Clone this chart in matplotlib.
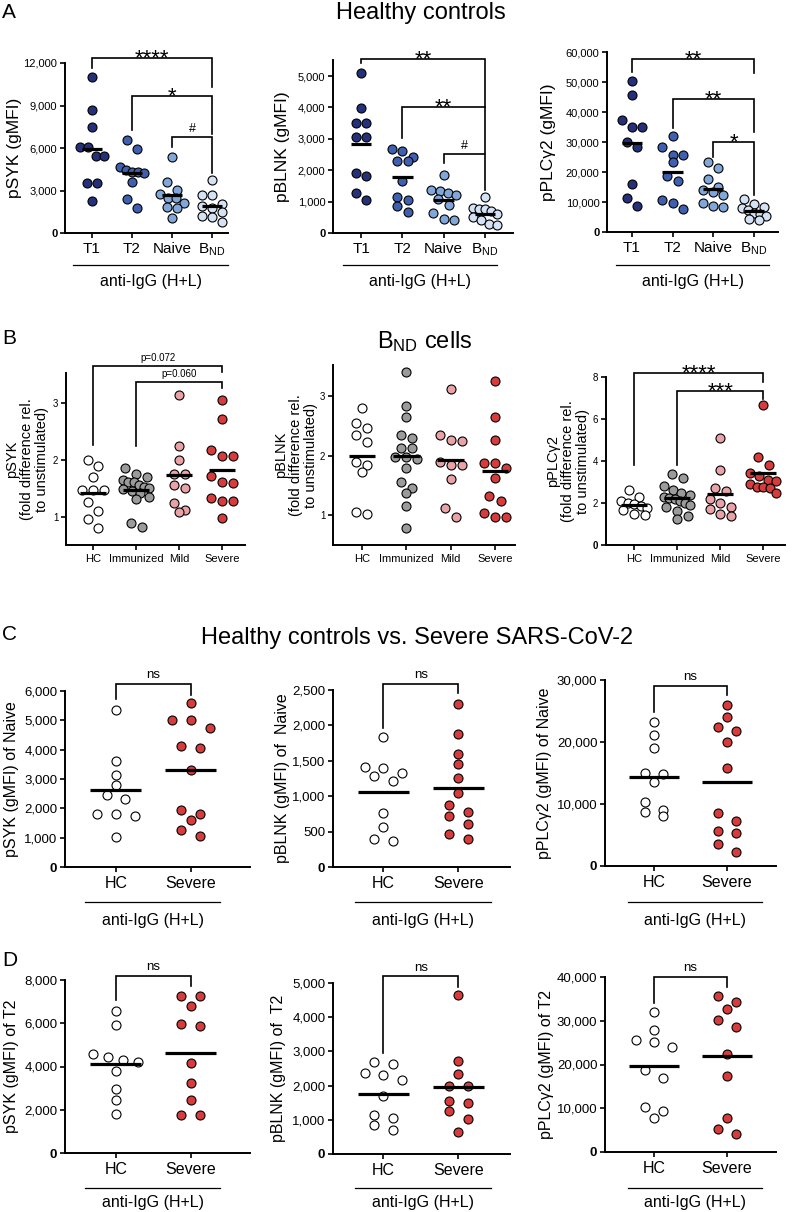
import numpy as np
import matplotlib
matplotlib.use("Agg")
import matplotlib.pyplot as plt
from matplotlib.lines import Line2D

plt.rcParams['font.family'] = ['Liberation Sans', 'DejaVu Sans']
plt.rcParams['mathtext.fontset'] = 'custom'
plt.rcParams['mathtext.rm'] = 'Liberation Sans'
plt.rcParams['mathtext.it'] = 'Liberation Sans:italic'
plt.rcParams['mathtext.bf'] = 'Liberation Sans:bold'

# ---------------- data ----------------

# A: healthy controls, gMFI per subset
a_groups = ["T1", "T2", "Naive", r"B$_{\mathrm{ND}}$"]
psyk_hc = [
    [11000, 8650, 7450, 6050, 6050, 5450, 5450, 3550, 3550, 2250],
    [6560, 5930, 4690, 4450, 4340, 4290, 4220, 3630, 2390, 1760],
    [5400, 3600, 3050, 2750, 2450, 2450, 2150, 1850, 1800, 1050],
    [3750, 2650, 2650, 2050, 1900, 1750, 1500, 1200, 1100, 800],
]
pblnk_hc = [
    [5085, 3970, 3500, 3500, 3070, 3070, 1910, 1800, 1270, 1060],
    [2680, 2620, 2420, 2300, 2280, 1650, 1150, 1050, 850, 680],
    [1850, 1380, 1330, 1280, 1220, 1080, 900, 650, 450, 400],
    [1150, 800, 780, 750, 700, 600, 500, 400, 280, 250],
]
pplc_hc = [
    [50400, 45800, 37400, 35000, 34900, 29900, 28500, 16100, 11300, 8800],
    [31900, 28200, 25800, 25800, 23500, 18800, 17100, 10600, 9700, 7800],
    [23200, 21300, 17700, 15000, 14100, 13200, 12200, 9800, 8600, 8300],
    [11000, 9500, 8200, 8000, 7500, 6500, 6000, 5200, 4500, 4000],
]

# B: BND cells, fold difference relative to unstimulated
b_groups = ["HC", "Immunized", "Mild", "Severe"]
fold_psyk = [
    [2.0, 1.88, 1.7, 1.47, 1.47, 1.47, 1.25, 1.1, 0.95, 0.8],
    [1.85, 1.75, 1.7, 1.65, 1.6, 1.6, 1.55, 1.52, 1.5, 1.48, 1.45, 1.42,
     1.35, 1.3, 0.88, 0.82],
    [3.13, 2.24, 2.0, 1.74, 1.74, 1.56, 1.5, 1.24, 1.12, 1.08],
    [3.05, 2.72, 2.16, 2.06, 2.06, 1.71, 1.6, 1.59, 1.33, 1.27, 1.27, 0.98],
]
fold_pblnk = [
    [2.8, 2.54, 2.46, 2.34, 2.22, 1.9, 1.85, 1.73, 1.06, 1.02],
    [3.4, 2.83, 2.65, 2.35, 2.3, 2.13, 2.12, 1.97, 1.97, 1.95, 1.8, 1.56,
     1.46, 1.37, 1.16, 0.78],
    [3.12, 2.35, 2.27, 2.25, 1.9, 1.85, 1.85, 1.6, 1.12, 0.97],
    [3.25, 2.65, 2.27, 1.87, 1.87, 1.8, 1.63, 1.33, 1.23, 1.03, 0.97, 0.97],
]
fold_pplc = [
    [2.62, 2.3, 2.1, 2.0, 1.95, 1.85, 1.75, 1.65, 1.5, 1.45],
    [3.4, 3.2, 2.8, 2.6, 2.5, 2.4, 2.3, 2.25, 2.2, 2.1, 2.0, 1.9, 1.8,
     1.6, 1.4, 1.25],
    [5.1, 3.55, 2.7, 2.55, 2.2, 2.0, 1.8, 1.7, 1.5, 1.4],
    [6.65, 4.2, 3.8, 3.45, 3.3, 3.1, 3.05, 2.9, 2.75, 2.75, 2.7, 2.5],
]

# C / D: healthy controls vs severe, naive and T2 B cells
cd_groups = ["HC", "Severe"]
naive_psyk = [
    [5360, 3600, 3150, 2800, 2470, 2330, 1820, 1820, 1740, 1020],
    [5590, 5020, 5020, 4740, 4110, 4060, 3320, 1930, 1820, 1610, 1270, 1050],
]
naive_pblnk = [
    [1830, 1410, 1400, 1330, 1280, 1220, 760, 560, 400, 370],
    [2300, 1880, 1600, 1450, 1260, 1050, 880, 770, 720, 610, 460, 400],
]
naive_pplc = [
    [23200, 21200, 19000, 15000, 14800, 13500, 10300, 9000, 8700, 8100],
    [26000, 24100, 22500, 21800, 20000, 15800, 8600, 7300, 5600, 5300, 3500, 2300],
]
t2_psyk = [
    [6560, 5900, 4600, 4450, 4300, 4200, 3800, 2950, 2450, 1800],
    [7250, 7250, 6800, 5950, 5850, 4150, 3250, 2450, 1750, 1750],
]
t2_pblnk = [
    [2680, 2620, 2380, 2300, 2150, 1700, 1150, 1050, 850, 700],
    [4650, 2730, 2340, 2000, 2000, 1550, 1500, 1250, 1030, 630],
]
t2_pplc = [
    [31900, 27900, 25600, 25200, 23900, 18800, 17000, 10200, 9300, 7700],
    [35600, 34200, 32800, 30200, 28600, 22500, 17300, 7800, 5300, 4100],
]

# colours
blues = ["#24307a", "#3f5fb0", "#80a6da", "#d3e3f5"]
covid = ["white", "#9b9b9b", "#eaa2a7", "#d73b3b"]
hc_sev = ["white", "#d73b3b"]

# ---------------- helpers ----------------

W, H = 794, 1212
fig = plt.figure(figsize=(W / 100, H / 100), dpi=100)

DOT = 9.0      # marker diameter in pixels
ROW_H = 9.0    # dots closer than this (vertically, px) share a row
SPACING = 0.25 # horizontal step between dots of one row, category units
MAXW = 0.3     # max half width of a row, category units


def scatter_offsets(vals, ppy):
    """prism-like column scatter: dots with about the same value are put
    side by side in a row, centred on the category"""
    ys = np.asarray(vals, float) * ppy
    order = np.argsort(-ys, kind="stable")
    xs = np.zeros(len(ys))
    i = 0
    while i < len(order):
        row = [order[i]]
        j = i + 1
        while j < len(order) and ys[order[i]] - ys[order[j]] < ROW_H:
            row.append(order[j])
            j += 1
        m = len(row)
        sp = min(SPACING, 2 * MAXW / (m - 1)) if m > 1 else 0.0
        for k, idx in enumerate(row):
            xs[idx] = (k - (m - 1) / 2) * sp
        i = j
    return xs


# label kinds: (fontsize, vertical offset in points from the bar)
LABEL_STYLE = {"star": (16, -4.5), "hash": (9, 3.3), "ns": (9.5, 4.0), "p": (7, 3.7)}


def panel(box, data, colors, cats, ylim, yticks, xlim, ylabel, ylab_x,
          tick_fs, cat_fs, ylab_fs, half_w, brackets, fold=False):
    l, r, t, b = box
    ax = fig.add_axes([l / W, 1 - b / H, (r - l) / W, (b - t) / H])
    ax.set_xlim(xlim)
    ax.set_ylim(ylim)
    ppy = (b - t) / (ylim[1] - ylim[0])

    for i, (vals, col) in enumerate(zip(data, colors)):
        off = scatter_offsets(vals, ppy)
        ax.scatter(i + off, vals, s=(DOT * 0.72) ** 2, c=col, edgecolors="black",
                   linewidths=0.8, zorder=3, clip_on=False)
        m = np.mean(vals)
        ax.plot([i - half_w, i + half_w], [m, m], color="black", lw=2.3,
                zorder=4, solid_capstyle="butt")

    for sp in ["top", "right"]:
        ax.spines[sp].set_visible(False)
    for sp in ["left", "bottom"]:
        ax.spines[sp].set_linewidth(1.4)
    ax.tick_params(direction="out", length=3.5, width=1.2)
    ax.tick_params(axis="y", labelsize=tick_fs, pad=2)
    ax.tick_params(axis="x", labelsize=cat_fs, pad=3)

    ax.set_yticks(yticks)
    if fold:
        ax.set_yticklabels([f"{v:g}" for v in yticks])
    else:
        ax.set_yticklabels([f"{v:,}" for v in yticks])
    for lab in ax.get_yticklabels():
        if lab.get_text() == "0":
            lab.set_fontweight("bold")
    ax.set_xticks(range(len(cats)))
    ax.set_xticklabels(cats)

    fig.text(ylab_x / W, 1 - (t + b) / 2 / H, ylabel, rotation=90, ha="center",
             va="center", fontsize=ylab_fs, multialignment="center", linespacing=1.1)

    for i, j, ytop, yl, yr, text, kind in brackets:
        ax.plot([i, i, j, j], [yl, ytop, ytop, yr], color="black", lw=1.2,
                clip_on=False, solid_joinstyle="miter")
        fs, dy = LABEL_STYLE[kind]
        ax.annotate(text, ((i + j) / 2, ytop), xytext=(0, dy),
                    textcoords="offset points", ha="center", va="baseline",
                    fontsize=fs, annotation_clip=False)
    return ax


def group_line(x0, x1, y, ty, text="anti-IgG (H+L)", fs=11.5):
    fig.add_artist(Line2D([x0 / W, x1 / W], [1 - y / H, 1 - y / H],
                          lw=0.9, color="black"))
    fig.text((x0 + x1) / 2 / W, 1 - ty / H, text, ha="center", va="center",
             fontsize=fs)


# ---------------- A ----------------
panel((65, 228, 63, 233), psyk_hc, blues, a_groups, (0, 12000),
      range(0, 12001, 3000), (-0.675, 3.4), "pSYK (gMFI)", 15, 8, 11, 12.5, 0.25,
      [(0, 3, 12350, 11650, 10300, "****", "star"),
       (1, 3, 9670, 7270, 7000, "*", "star"),
       (2, 3, 6780, 6070, 4230, "#", "hash")])
panel((333, 513, 60, 233), pblnk_hc, blues, a_groups, (0, 5510),
      range(0, 5001, 1000), (-0.68, 3.68), "pBLNK (gMFI)", 282, 8, 11, 12.5, 0.25,
      [(0, 3, 5540, 5410, 4010, "**", "star"),
       (1, 3, 4010, 3020, 2550, "**", "star"),
       (2, 3, 2520, 2230, 1370, "#", "hash")])
panel((607, 778, 52, 232), pplc_hc, blues, a_groups, (0, 60000),
      range(0, 60001, 10000), (-0.61, 3.59), "pPLCγ2 (gMFI)", 549, 8, 11, 12.5, 0.25,
      [(0, 3, 57700, 53300, 53000, "**", "star"),
       (1, 3, 44300, 34600, 33400, "**", "star"),
       (2, 3, 30000, 25000, 12300, "*", "star")])
for x0, x1 in [(73, 228), (343, 497), (616, 769)]:
    group_line(x0, x1, 265, 281)

# ---------------- B ----------------
panel((66, 245, 373, 545), fold_psyk, covid, b_groups, (0.5, 3.52),
      [1, 2, 3], (-0.63, 3.53),
      "pSYK\n(fold difference rel.\nto unstimulated)", 27, 7, 8, 10.5, 0.3,
      [(0, 3, 3.64, 2.25, 3.53, "p=0.072", "p"),
       (1, 3, 3.36, 2.23, 3.26, "p=0.060", "p")], fold=True)
panel((333, 515, 365, 545), fold_pblnk, covid, b_groups, (0.5, 3.52),
      [1, 2, 3], (-0.65, 3.45),
      "pBLNK\n(fold difference rel.\nto unstimulated)", 296, 7, 8, 10.5, 0.3,
      [], fold=True)
panel((606, 785, 377, 545), fold_pplc, covid, b_groups, (0, 8),
      [0, 2, 4, 6, 8], (-0.65, 3.5),
      "pPLCγ2\n(fold difference rel.\nto unstimulated)", 568, 7, 8, 10.5, 0.3,
      [(0, 3, 8.2, 3.8, 7.78, "****", "star"),
       (1, 3, 7.35, 3.8, 6.95, "***", "star")], fold=True)

# ---------------- C ----------------
panel((65, 250, 691, 867), naive_psyk, hc_sev, cd_groups, (0, 6000),
      range(0, 6001, 1000), (-0.68, 1.79), "pSYK (gMFI) of Naive", 12, 9.5, 11.5,
      11.5, 0.34, [(0, 1, 6240, 5720, 5870, "ns", "ns")])
panel((333, 510, 690, 867), naive_pblnk, hc_sev, cd_groups, (0, 2500),
      range(0, 2501, 500), (-0.67, 1.69), "pBLNK (gMFI) of  Naive", 282, 9.5, 11.5,
      11.5, 0.34, [(0, 1, 2585, 1963, 2457, "ns", "ns")])
panel((605, 776, 680, 866), naive_pplc, hc_sev, cd_groups, (0, 30000),
      range(0, 30001, 10000), (-0.67, 1.67), "pPLCγ2 (gMFI) of Naive", 544, 9.5,
      11.5, 11.5, 0.34, [(0, 1, 29080, 24890, 27580, "ns", "ns")])
for x0, x1 in [(85, 220), (355, 491), (628, 762)]:
    group_line(x0, x1, 902, 920)

# ---------------- D ----------------
panel((65, 250, 980, 1153), t2_psyk, hc_sev, cd_groups, (0, 8000),
      range(0, 8001, 2000), (-0.68, 1.79), "pSYK (gMFI) of T2", 12, 9.5, 11.5,
      11.5, 0.34, [(0, 1, 8190, 7060, 7700, "ns", "ns")])
panel((333, 510, 983, 1154), t2_pblnk, hc_sev, cd_groups, (0, 5000),
      range(0, 5001, 1000), (-0.67, 1.69), "pBLNK (gMFI) of  T2", 279, 9.5, 11.5,
      11.5, 0.34, [(0, 1, 5200, 2960, 4890, "ns", "ns")])
panel((605, 776, 977, 1152), t2_pplc, hc_sev, cd_groups, (0, 40000),
      range(0, 40001, 10000), (-0.67, 1.67), "pPLCγ2 (gMFI) of T2", 546, 9.5,
      11.5, 11.5, 0.34, [(0, 1, 40070, 34130, 37790, "ns", "ns")])
for x0, x1 in [(85, 220), (355, 491), (628, 762)]:
    group_line(x0, x1, 1188, 1203)

# ---------------- titles and panel letters ----------------
fig.text(421 / W, 1 - 13 / H, "Healthy controls", ha="center", va="center", fontsize=17)
fig.text(425 / W, 1 - 342 / H, r"B$_{\mathrm{ND}}$ cells", ha="center", va="center",
         fontsize=17)
fig.text(417 / W, 1 - 638 / H, "Healthy controls vs. Severe SARS-CoV-2",
         ha="center", va="center", fontsize=17)
for letter, y in [("A", 13), ("B", 338), ("C", 635), ("D", 960)]:
    fig.text(2 / W, 1 - y / H, letter, ha="left", va="center", fontsize=15)

fig.savefig("out.png", dpi=100)
